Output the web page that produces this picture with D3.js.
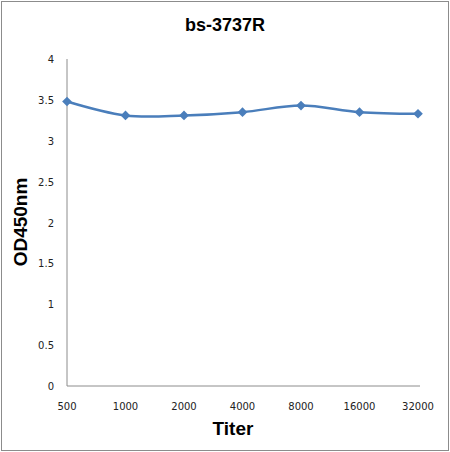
<!DOCTYPE html>
<html>
<head>
<meta charset="utf-8">
<script src="https://cdn.jsdelivr.net/npm/d3@7"></script>
<style>
  body { margin: 0; background: #fff; }
  text { font-family: "DejaVu Sans", Verdana, sans-serif; }
  text.title { font-family: "Liberation Sans", Arial, sans-serif; font-weight: bold; }
</style>
</head>
<body>
<script>
// chart values
const titers = ["500", "1000", "2000", "4000", "8000", "16000", "32000"];
const odValues = [3.48, 3.31, 3.31, 3.35, 3.43, 3.35, 3.33];
const yTicks = [0, 0.5, 1, 1.5, 2, 2.5, 3, 3.5, 4];

const width = 450, height = 452;
const margin = { top: 59, right: 30, bottom: 66, left: 67 };

const svg = d3.select("body").append("svg")
  .attr("width", width)
  .attr("height", height);

// outer frame
svg.append("rect")
  .attr("x", 1.5).attr("y", 1.5)
  .attr("width", width - 3).attr("height", height - 3)
  .attr("fill", "#fff")
  .attr("stroke", "#8c8c8c");

const x = d3.scalePoint()
  .domain(titers)
  .range([margin.left, 418]);

const y = d3.scaleLinear()
  .domain([0, 4])
  .range([height - margin.bottom, margin.top]);

// axes: plain grey lines, no tick marks
svg.append("line")
  .attr("x1", margin.left).attr("x2", margin.left)
  .attr("y1", y(4)).attr("y2", y(0))
  .attr("stroke", "#8c8c8c");
svg.append("line")
  .attr("x1", margin.left).attr("x2", 420)
  .attr("y1", y(0)).attr("y2", y(0))
  .attr("stroke", "#8c8c8c");

svg.append("g").selectAll("text")
  .data(yTicks)
  .join("text")
  .attr("x", 54)
  .attr("y", d => y(d) + 4)
  .attr("text-anchor", "end")
  .attr("font-size", 10)
  .attr("fill", "#222")
  .text(d => d);

svg.append("g").selectAll("text")
  .data(titers)
  .join("text")
  .attr("x", d => x(d))
  .attr("y", 410)
  .attr("text-anchor", "middle")
  .attr("font-size", 10)
  .attr("fill", "#222")
  .text(d => d);

// smoothed series line
const pts = titers.map((t, i) => [x(t), y(odValues[i])]);
svg.append("path")
  .attr("d", d3.line().curve(d3.curveCatmullRom)(pts))
  .attr("fill", "none")
  .attr("stroke", "#4a7ebb")
  .attr("stroke-width", 2.5);

svg.append("g").selectAll("path")
  .data(pts)
  .join("path")
  .attr("transform", d => "translate(" + d[0] + "," + d[1] + ")")
  .attr("d", d3.symbol(d3.symbolDiamond2, 60))
  .attr("fill", "#4a7ebb");

// titles
svg.append("text")
  .attr("class", "title")
  .attr("x", 225).attr("y", 31)
  .attr("text-anchor", "middle")
  .attr("font-size", 18)
  .text("bs-3737R");

svg.append("text")
  .attr("class", "title")
  .attr("transform", "translate(27,222) rotate(-90)")
  .attr("text-anchor", "middle")
  .attr("font-size", 19)
  .text("OD450nm");

svg.append("text")
  .attr("class", "title")
  .attr("x", 233).attr("y", 435)
  .attr("text-anchor", "middle")
  .attr("font-size", 19)
  .text("Titer");
</script>
</body>
</html>
